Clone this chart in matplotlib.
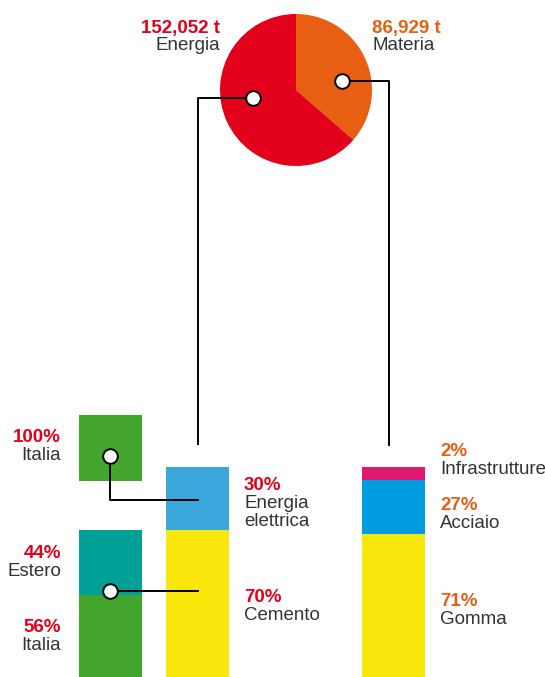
import matplotlib.pyplot as plt

# totals (t)
pie_labels = ["Materia", "Energia"]
pie_values = [86929, 152052]
pie_text = ["86,929 t", "152,052 t"]

# Energia breakdown (%)
energia_cats = ["Cemento", "Energia\nelettrica"]
energia_pct = [70, 30]

# Materia breakdown (%) and drawn share
materia_cats = ["Gomma", "Acciaio", "Infrastrutture"]
materia_pct = [71, 27, 2]
materia_drawn = [68, 26, 6]

# origin of energy sources
elettrica_cats = ["Italia"]
elettrica_pct = [100]
cemento_cats = ["Italia", "Estero"]
cemento_pct = [56, 44]

RED = "#e2001a"
ORANGE = "#e85e13"
GREEN = "#43a52d"
TEAL = "#00a096"
LBLUE = "#3aa8db"
BLUE = "#009ee0"
YELLOW = "#f9e60b"
PINK = "#e2176f"
GREY = "#333333"

plt.rcParams['font.family'] = ['Liberation Sans', 'DejaVu Sans']

W, H = 545, 677
fig = plt.figure(figsize=(W / 100, H / 100), dpi=100)
ax = fig.add_axes([0, 0, 1, 1])

# pie
ax.pie(pie_values, colors=[ORANGE, RED], startangle=90, counterclock=False,
       center=(296, H - 90), radius=76, wedgeprops=dict(linewidth=0))
ax.set_xlim(0, W)
ax.set_ylim(0, H)
ax.set_aspect('equal')
ax.axis('off')

FS = 13.5
ax.text(220, H - 29, pie_text[1], color=RED, fontsize=FS, fontweight='bold', ha='right', va='center')
ax.text(220, H - 46, pie_labels[1], color=GREY, fontsize=FS, ha='right', va='center')
ax.text(372, H - 29, pie_text[0], color=ORANGE, fontsize=FS, fontweight='bold', ha='left', va='center')
ax.text(372, H - 46, pie_labels[0], color=GREY, fontsize=FS, ha='left', va='center')

# stacked bars
BW = 63
SCALE = 2.1  # px per percent
cx, rx, lx = 166 + BW / 2, 362 + BW / 2, 79 + BW / 2

bottom = 0
for v, c in zip(energia_pct, [YELLOW, LBLUE]):
    ax.bar(cx, v * SCALE, bottom=bottom, width=BW, color=c, linewidth=0)
    bottom += v * SCALE

bottom = 0
for v, c in zip(materia_drawn, [YELLOW, BLUE, PINK]):
    ax.bar(rx, v * SCALE, bottom=bottom, width=BW, color=c, linewidth=0)
    bottom += v * SCALE

# cemento origin bar (same height as the cement segment)
cem_h = energia_pct[0] * SCALE
bottom = 0
for v, c in zip(cemento_pct, [GREEN, TEAL]):
    ax.bar(lx, v / 100 * cem_h, bottom=bottom, width=BW, color=c, linewidth=0)
    bottom += v / 100 * cem_h

# elettrica origin bar
el_h = energia_pct[1] * SCALE + 3
el_bot = H - 481
ax.bar(lx, elettrica_pct[0] / 100 * el_h, bottom=el_bot, width=BW, color=GREEN, linewidth=0)

# connectors
LW = 1.4
ax.plot([253, 198, 198], [H - 98, H - 98, H - 444], color='black', lw=LW, zorder=3)
ax.plot([342, 389, 389], [H - 81, H - 81, H - 445], color='black', lw=LW, zorder=3)
ax.plot([110, 110, 198], [H - 456, H - 500, H - 500], color='black', lw=LW, zorder=3)
ax.plot([110, 198], [H - 591, H - 591], color='black', lw=LW, zorder=3)
for x, y in [(253, 98), (342, 81), (110, 456), (110, 591)]:
    ax.plot(x, H - y, 'o', ms=10.5, mfc='white', mec='black', mew=1.4, zorder=4)

# labels
def label(x, y, pct, name, color, ha):
    ax.text(x, H - y, f"{pct}%", color=color, fontsize=FS, fontweight='bold', ha=ha, va='center')
    ax.text(x, H - y - 9.5, name, color=GREY, fontsize=FS, ha=ha, va='top', linespacing=1.08)

label(61, 438, elettrica_pct[0], elettrica_cats[0], RED, 'right')
label(61, 553, cemento_pct[1], cemento_cats[1], RED, 'right')
label(61, 628, cemento_pct[0], cemento_cats[0], RED, 'right')

label(244, 485, energia_pct[1], energia_cats[1], RED, 'left')
label(244, 598, energia_pct[0], energia_cats[0], RED, 'left')

label(440, 452, materia_pct[2], materia_cats[2], ORANGE, 'left')
label(440, 506, materia_pct[1], materia_cats[1], ORANGE, 'left')
label(440, 602, materia_pct[0], materia_cats[0], ORANGE, 'left')

fig.savefig("out.png", dpi=100)
